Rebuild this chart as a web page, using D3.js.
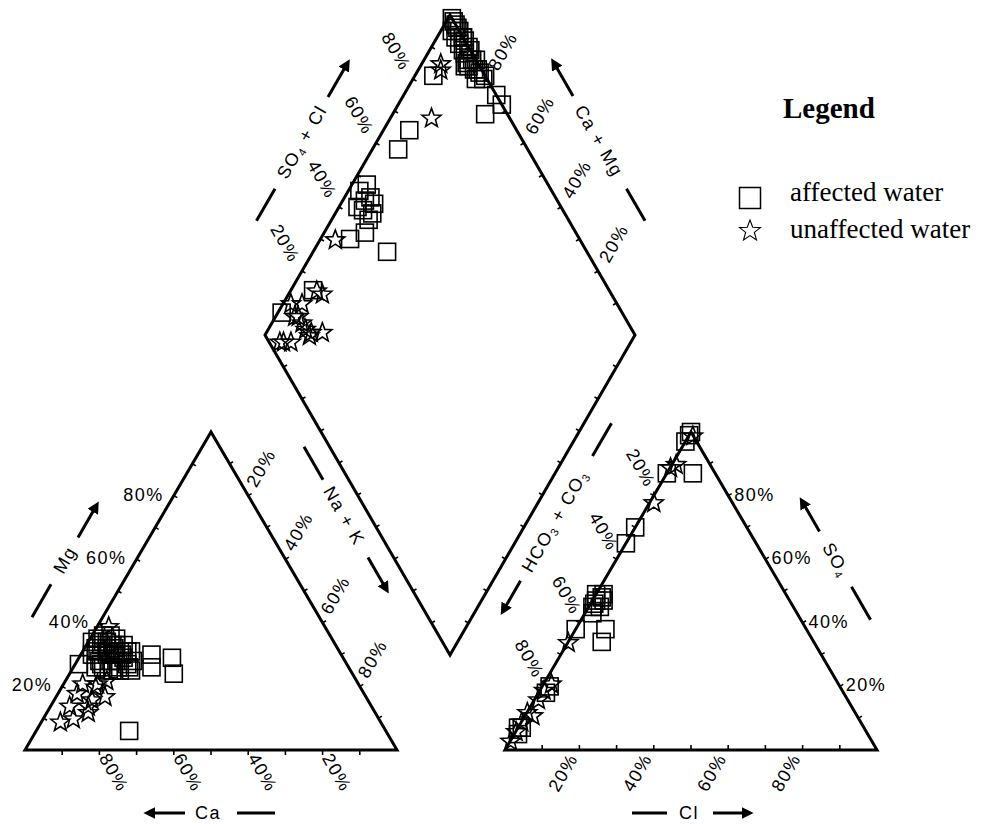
<!DOCTYPE html>
<html><head><meta charset="utf-8">
<script src="https://cdn.jsdelivr.net/npm/d3@7"></script>
<style>body{margin:0;background:#fff} svg{display:block}</style>
</head><body>
<svg id="chart" width="992" height="824"></svg>
<script>
// ---------- DATA (percent) ----------
// cation triangle: [Ca, Mg, Na+K]
const cationAffected = [
  [72,27,1],[65,34,1],[59,36,5],[63,33,4],[61,34,5],[59,33,8],[57,33,10],[65,31,4],[63,30,7],[60,32,8],
  [59,30,11],[56,31,13],[66,28,6],[63,28,9],[61,28,11],[59,27,14],[66,26,8],[64,25,11],[62,25,13],[63,35,2],
  [58,35,7],[62,32,6],[62,26,12],[57,28,15],[67,30,3],[61,36,3],[57,31,12],[59,25,16],[51,30,19],[46,29,25],
  [53,26,21],[48,24,28],[69,6,25],
  [65,32,3],[62,34,4],[60,33,7],[59,31,10],[62,31,7],[61,30,9],[66,27,7],[59,29,12],[65,25,10],[59,26,15],[68,26,6]
];
const cationUnaffected = [
  [86,9,5],[82,10,8],[77,12,11],[77,18,5],[74,16,10],[70,17,13],[74,21,5],[70,21,9],[67,22,11],[71,20,9],
  [76,14,10],[58,39,3],[81,14,5]
];
// anion triangle: [HCO3+CO3, SO4, Cl]
const anionAffected = [
  [0,100,0],[1,99,0],[3,97,0],[6,87,7],[13,87,0],[30,70,0],[35,65,0],[50,48,2],[52,47,1],[54,45,1],
  [52,45,3],[55,43,2],[50,47,3],[62,38,0],[54,38,8],[57,34,9],[80,18,2],[78,20,2],[93,7,0],[94,5,1],[92,7,1],
  [51,49,0],[53,46,1],[49,49,2]
];
const anionUnaffected = [
  [11,89,0],[9,90,1],[21,78,1],[66,34,0],[80,19,1],[77,21,2],[87,11,2],[88,12,0],[91,9,0],[94,6,0],
  [97,3,0],[83,16,1],[0,99,1]
];
// diamond: [Ca+Mg, SO4+Cl]
const diamondAffected = [
  [99,100],[97,100],[95,100],[95,98],[92,100],[91,98],[89,100],[88,98],[86,100],[85,98],[83,99],[97,98],
  [93,100],[88,96],[81,100],[75,100],[72,100],[75,94],[95,86],[93,71],[93,65],[94,48],[97,48],[93,50],
  [93,46],[90,48],[96,51],[91,50],[95,45],[90,46],[92,38],[89,43],[80,46],[99,8],[94,20],
  [98,100],[96,100],[93,100],[90,100],[93,98],[90,98],[87,99],[87,97],[84,99],[83,97],[81,99],[88,97]
];
const diamondUnaffected = [
  [95,90],[94,89],[89,79],[96,34],[91,22],[93,21],[95,15],[94,12],[92,12],[88,13],[88,12],[85,16],
  [94,4],[92,6],[98,12],[95,11],[90,12],[95,3]
];
const tickValues = [20,40,60,80];
const tickLabels = ["20%","40%","60%","80%"];
const seriesNames = ["affected water","unaffected water"];

// ---------- SCALES ----------
const svg = d3.select('#chart');
const W = 372, H = 318;
const cat = {x: d3.scaleLinear().domain([0,100]).range([25, 25+W]), y: d3.scaleLinear().domain([0,100]).range([750, 750-H])};
const ani = {x: d3.scaleLinear().domain([0,100]).range([505, 505+W]), y: d3.scaleLinear().domain([0,100]).range([750, 750-H])};
const dia = {x: d3.scaleLinear().domain([-100,100]).range([265,635]), y: d3.scaleLinear().domain([0,200]).range([655,15])};

const catPos = d => [cat.x(d[2] + d[1]/2), cat.y(d[1])];
const aniPos = d => [ani.x(d[2] + d[1]/2), ani.y(d[1])];
const diaPos = d => [dia.x(d[1]-d[0]), dia.y(d[1]+d[0])];

const FONT = '"Liberation Sans", Arial, sans-serif';
const SERIF = '"Liberation Serif", "Times New Roman", serif';

svg.append('defs').append('marker').attr('id','ah').attr('viewBox','0 0 10 10')
  .attr('refX',2).attr('refY',5).attr('markerWidth',4).attr('markerHeight',4)
  .attr('markerUnits','strokeWidth').attr('orient','auto')
  .append('path').attr('d','M0,0 L10,5 L0,10 z').attr('fill','#000');

// ---------- OUTLINES ----------
const line = d3.line();
const catV = [catPos([100,0,0]), catPos([0,100,0]), catPos([0,0,100])];
const aniV = [aniPos([100,0,0]), aniPos([0,100,0]), aniPos([0,0,100])];
const diaV = [diaPos([100,0]), diaPos([100,100]), diaPos([0,100]), diaPos([0,0])];
[catV, aniV, diaV].forEach(v => {
  svg.append('path').attr('d', line(v) + 'Z').attr('fill','none').attr('stroke','#000')
    .attr('stroke-width',3).attr('stroke-linejoin','miter');
});

function ticks(p0, p1, centroid, len, inward) {
  const dx = p1[0]-p0[0], dy = p1[1]-p0[1], L = Math.hypot(dx,dy);
  let nx = -dy/L, ny = dx/L;
  const mx = (p0[0]+p1[0])/2, my = (p0[1]+p1[1])/2;
  if ((centroid[0]-mx)*nx + (centroid[1]-my)*ny > 0) { nx = -nx; ny = -ny; }
  if (inward) { nx = -nx; ny = -ny; }
  d3.range(1,10).forEach(i => {
    const t = i/10, x = p0[0]+t*dx, y = p0[1]+t*dy;
    svg.append('line').attr('x1',x).attr('y1',y).attr('x2',x+nx*len).attr('y2',y+ny*len)
      .attr('stroke','#000').attr('stroke-width',1.6);
  });
}
function centroid(v){ return [d3.mean(v,d=>d[0]), d3.mean(v,d=>d[1])]; }
const cc = centroid(catV), ac = centroid(aniV), dc = centroid(diaV);
ticks(catV[0], catV[1], cc, 4, true);
ticks(catV[1], catV[2], cc, 4, false);
ticks(catV[2], catV[0], cc, 5, false);
ticks(aniV[0], aniV[1], ac, 4, false);
ticks(aniV[1], aniV[2], ac, 4, false);
ticks(aniV[2], aniV[0], ac, 5, true);
for (let i=0;i<4;i++) ticks(diaV[i], diaV[(i+1)%4], dc, 4, true);

// ---------- PERCENT LABELS ----------
function label(x, y, txt, rot, anchor) {
  svg.append('text').attr('transform', `translate(${x},${y}) rotate(${rot})`)
    .attr('text-anchor', anchor).attr('font-family', FONT).attr('font-size', 18)
    .attr('letter-spacing', 1.5).attr('fill','#000').text(txt);
}
tickValues.forEach((v,i) => {
  const t = tickLabels[i];
  let p;
  p = catPos([100-v, v, 0]); label(p[0]-10, p[1]+5, t, 0, 'end');
  p = catPos([v, 0, 100-v]); label(p[0]-1, 758, t, 60, 'start');
  p = catPos([0, 100-v, v]); label(p[0]+8, p[1]-7, t, -60, 'start');
  p = aniPos([100-v, 0, v]); label(p[0]-1, 758, t, -60, 'end');
  p = aniPos([0, v, 100-v]); label(p[0]+6, p[1]+5, t, 0, 'start');
  p = aniPos([v, 100-v, 0]); label(p[0]-8, p[1]-7, t, 60, 'end');
  p = diaPos([100, v]); label(p[0]-12, p[1]-7, t, 60, 'end');
  p = diaPos([v, 100]); label(p[0]+11, p[1]-7, t, -60, 'start');
});

// ---------- AXIS TITLES ----------
function axisTitle(cx, cy, rot, parts, dash, arrow) {
  const g = svg.append('g').attr('transform', `translate(${cx},${cy}) rotate(${rot})`);
  const t = g.append('text').attr('x',0).attr('y',6).attr('text-anchor','middle')
    .attr('font-family', FONT).attr('font-size', 18).attr('letter-spacing',1.5);
  parts.forEach(p => {
    const s = t.append('tspan').text(p[0]);
    if (p[1]) s.attr('font-size', 11).attr('baseline-shift', '-25%');
  });
  g.append('line').attr('x1',dash[0]).attr('x2',dash[1]).attr('y1',0).attr('y2',0)
    .attr('stroke','#000').attr('stroke-width',3);
  g.append('line').attr('x1',arrow[0]).attr('x2',arrow[1] - Math.sign(arrow[1]-arrow[0])*8).attr('y1',0).attr('y2',0)
    .attr('stroke','#000').attr('stroke-width',3).attr('marker-end','url(#ah)');
}
axisTitle(65, 560, -60, [['Mg']], [-66,-28], [26,66]);
axisTitle(344, 516, 60, [['Na + K']], [-80,-42], [48,88]);
axisTitle(208, 813, 0, [['Ca']], [29,67], [-23,-63]);
axisTitle(689, 813, 0, [['Cl']], [-57,-22], [24,63]);
axisTitle(302, 142, -60, [['SO'],['4','sub'],[' + Cl']], [-91,-54], [52,94]);
axisTitle(599, 141, 60, [['Ca + Mg']], [55,92], [-52,-94]);
axisTitle(555, 521, -60, [['HCO'],['3','sub'],[' + CO'],['3','sub']], [75,113], [-69,-107]);
axisTitle(836, 560, 60, [['SO'],['4','sub']], [31,69], [-33,-71]);

// ---------- MARKERS ----------
function starPath(R, r) {
  const pts = d3.range(10).map(i => {
    const a = -Math.PI/2 + i*Math.PI/5, rad = i%2 ? r : R;
    return [rad*Math.cos(a), rad*Math.sin(a)];
  });
  return line(pts) + 'Z';
}
const SQ = 17;
function squares(data, pos) {
  svg.append('g').selectAll('rect').data(data).join('rect')
    .attr('x', d => pos(d)[0]-SQ/2).attr('y', d => pos(d)[1]-SQ/2)
    .attr('width', SQ).attr('height', SQ).attr('fill','none').attr('stroke','#000').attr('stroke-width',1.6);
}
function stars(data, pos) {
  svg.append('g').selectAll('path').data(data).join('path')
    .attr('transform', d => `translate(${pos(d)[0]},${pos(d)[1]+1})`)
    .attr('d', starPath(10, 4.2)).attr('fill','none').attr('stroke','#000').attr('stroke-width',1.6);
}
squares(cationAffected, catPos); stars(cationUnaffected, catPos);
squares(anionAffected, aniPos); stars(anionUnaffected, aniPos);
squares(diamondAffected, diaPos); stars(diamondUnaffected, diaPos);

// ---------- LEGEND ----------
svg.append('text').attr('x',783).attr('y',118).attr('font-family',SERIF).attr('font-weight','bold')
  .attr('font-size',29).text('Legend');
svg.append('rect').attr('x',739.5).attr('y',187.5).attr('width',21).attr('height',21)
  .attr('fill','none').attr('stroke','#000').attr('stroke-width',1.5);
svg.append('path').attr('transform','translate(750,231)').attr('d', starPath(11, 4.6))
  .attr('fill','none').attr('stroke','#000').attr('stroke-width',1.1);
svg.append('text').attr('x',790).attr('y',201).attr('font-family',SERIF).attr('font-size',27).text(seriesNames[0]);
svg.append('text').attr('x',790).attr('y',238).attr('font-family',SERIF).attr('font-size',27).text(seriesNames[1]);
</script>
</body></html>
